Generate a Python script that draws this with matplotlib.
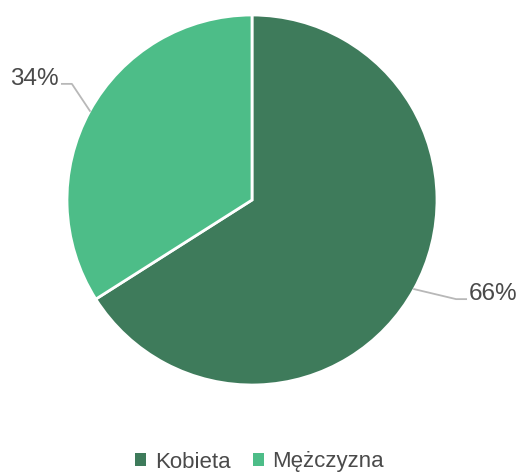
import matplotlib
matplotlib.use("Agg")
import matplotlib.pyplot as plt
from matplotlib.patches import Patch
import numpy as np

categories = ["Kobieta", "Mężczyzna"]
values = [66, 34]
labels = ["66%", "34%"]
colors = ["#3e7b5b", "#4dbd88"]

W, H = 519, 476
fig = plt.figure(figsize=(W / 100, H / 100), dpi=100)
ax = fig.add_axes([0, 0, 1, 1])

cx, cy, r = 252, H - 200, 185
wedges, _ = ax.pie(values, colors=colors, startangle=90, counterclock=False,
                   radius=r, center=(cx, cy), frame=True,
                   wedgeprops=dict(edgecolor="white", linewidth=2))
ax.set_xlim(0, W)
ax.set_ylim(0, H)
ax.axis("off")

fam = ["Liberation Sans", "DejaVu Sans"]
line_c = "#b8b8b8"
txt_c = "#4a4a4a"
for w, lab in zip(wedges, labels):
    ang = np.deg2rad((w.theta1 + w.theta2) / 2)
    x0, y0 = cx + r * np.cos(ang), cy + r * np.sin(ang)
    side = 1 if np.cos(ang) > 0 else -1
    if side > 0:
        x1, y1 = x0 + 42, y0 - 10
    else:
        x1, y1 = x0 - 18, y0 + 27
    x2 = x1 + 10 * side
    ax.plot([x0, x1, x2], [y0, y1, y1], color=line_c, lw=1.3)
    ax.text(x2 + 3 * side, y1 + 5, lab, ha="left" if side > 0 else "right",
            va="center", fontsize=17.5, color=txt_c, family=fam)

handles = [Patch(facecolor=c, edgecolor="none") for c in colors]
leg = fig.legend(handles, categories, loc="center", bbox_to_anchor=(0.5, 1 - 462 / H),
                 ncol=2, frameon=False, handlelength=0.5, handleheight=0.5,
                 handletextpad=0.4, columnspacing=1.0,
                 prop=dict(family=fam, size=16))
for t in leg.get_texts():
    t.set_color(txt_c)

fig.savefig("out.png", dpi=100)
